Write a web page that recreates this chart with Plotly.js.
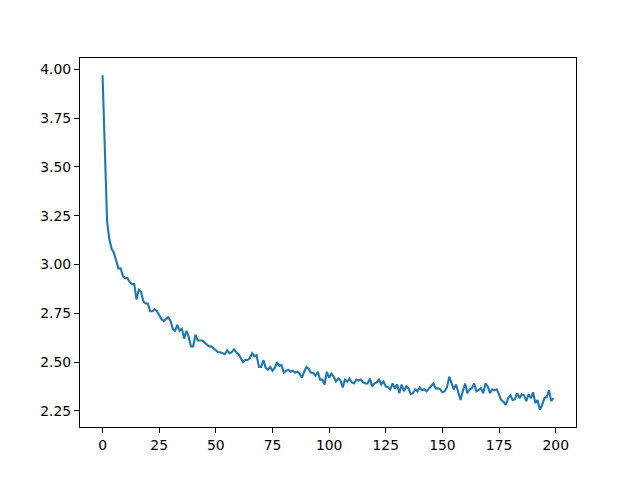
<!DOCTYPE html>
<html>
<head>
<meta charset="utf-8">
<script src="https://cdn.plot.ly/plotly-3.0.1.min.js"></script>
<style>html,body{margin:0;padding:0;background:#fff;}#chart{width:640px;height:480px;}</style>
</head>
<body>
<div id="chart"></div>
<script>
// Loss values per step
const lossValues = [
  3.97, 3.60, 3.22, 3.13, 3.08, 3.06, 3.02, 2.98, 2.98, 2.94,
  2.93, 2.93, 2.91, 2.90, 2.90, 2.82, 2.87, 2.86, 2.81, 2.80,
  2.80, 2.76, 2.76, 2.77, 2.76, 2.74, 2.72, 2.71, 2.72, 2.73,
  2.71, 2.67, 2.66, 2.69, 2.66, 2.67, 2.62, 2.66, 2.63, 2.58,
  2.58, 2.64, 2.61, 2.61, 2.61, 2.60, 2.59, 2.58, 2.58, 2.57,
  2.56, 2.55, 2.55, 2.545, 2.54, 2.56, 2.545, 2.55, 2.565, 2.55,
  2.54, 2.52, 2.50, 2.51, 2.51, 2.52, 2.545, 2.53, 2.535, 2.475,
  2.475, 2.51, 2.47, 2.46, 2.475, 2.455, 2.47, 2.50, 2.48, 2.485,
  2.445, 2.455, 2.46, 2.45, 2.455, 2.445, 2.45, 2.44, 2.42, 2.45,
  2.475, 2.465, 2.445, 2.445, 2.43, 2.45, 2.41, 2.41, 2.385, 2.45,
  2.42, 2.44, 2.425, 2.40, 2.415, 2.405, 2.37, 2.41, 2.40, 2.415,
  2.395, 2.39, 2.41, 2.405, 2.41, 2.395, 2.39, 2.39, 2.415, 2.375,
  2.39, 2.395, 2.41, 2.385, 2.40, 2.375, 2.37, 2.36, 2.39, 2.365,
  2.385, 2.34, 2.385, 2.35, 2.375, 2.365, 2.335, 2.34, 2.36, 2.35,
  2.37, 2.355, 2.36, 2.35, 2.365, 2.375, 2.39, 2.365, 2.365, 2.36,
  2.345, 2.35, 2.37, 2.425, 2.39, 2.36, 2.385, 2.35, 2.305, 2.35,
  2.39, 2.34, 2.36, 2.365, 2.39, 2.35, 2.36, 2.365, 2.34, 2.39,
  2.375, 2.34, 2.36, 2.355, 2.36, 2.335, 2.305, 2.295, 2.28, 2.315,
  2.33, 2.305, 2.31, 2.34, 2.315, 2.335, 2.33, 2.30, 2.335, 2.315,
  2.345, 2.29, 2.305, 2.255, 2.28, 2.315, 2.32, 2.355, 2.30, 2.315
];
const steps = lossValues.map((_, i) => i);
const xTickVals = [0, 25, 50, 75, 100, 125, 150, 175, 200];
const yTickVals = [2.25, 2.50, 2.75, 3.00, 3.25, 3.50, 3.75, 4.00];

const trace = {
  x: steps,
  y: lossValues,
  type: 'scatter',
  mode: 'lines',
  line: {color: '#1f77b4', width: 2.1},
  hoverinfo: 'skip'
};

const axisCommon = {
  showgrid: false,
  zeroline: false,
  showline: true,
  linecolor: '#000',
  linewidth: 1,
  mirror: true,
  ticks: 'outside',
  ticklen: 5,
  tickwidth: 1,
  tickcolor: '#000',
  tickfont: {family: 'DejaVu Sans', size: 13.9, color: '#000'}
};

const layout = {
  width: 640,
  height: 480,
  paper_bgcolor: '#fff',
  plot_bgcolor: '#fff',
  showlegend: false,
  margin: {l: 80, r: 64, t: 58, b: 53, pad: 0},
  xaxis: Object.assign({}, axisCommon, {
    range: [-9.95, 208.95],
    tickvals: xTickVals,
    ticktext: xTickVals.map(String)
  }),
  yaxis: Object.assign({}, axisCommon, {
    range: [2.167, 4.058],
    tickvals: yTickVals,
    ticktext: yTickVals.map(v => v.toFixed(2))
  })
};

Plotly.newPlot('chart', [trace], layout, {staticPlot: true, displayModeBar: false});
</script>
</body>
</html>
